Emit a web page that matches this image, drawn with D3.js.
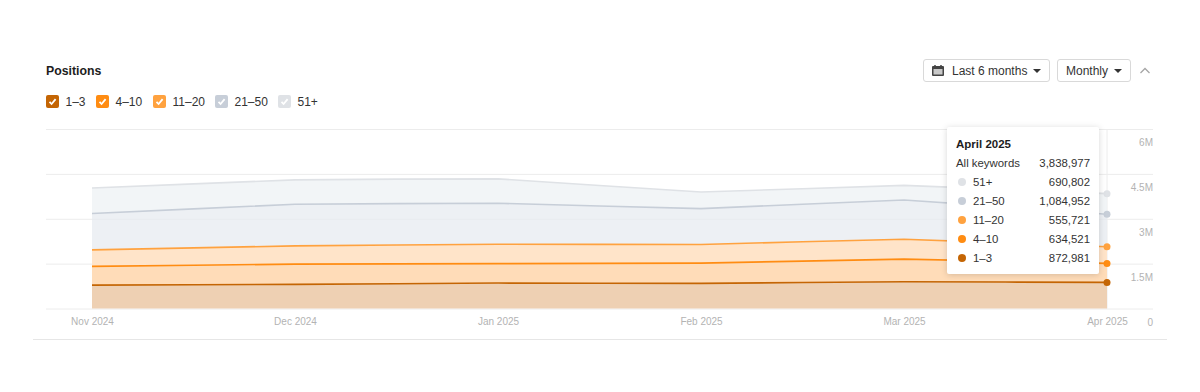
<!DOCTYPE html>
<html>
<head>
<meta charset="utf-8">
<script src="https://cdn.jsdelivr.net/npm/d3@7"></script>
<style>
    html, body { margin: 0; padding: 0; background: #fff; }
    svg { display: block; font-family: "Liberation Sans", Arial, sans-serif; }
    .y-axis .domain, .x-axis .domain, .x-axis .tick line { display: none; }
    .y-axis .tick line { stroke: #ececec; }
</style>
</head>
<body>
<svg id="chart" width="1200" height="392"></svg>
<script>
const months = ['Nov 2024', 'Dec 2024', 'Jan 2025', 'Feb 2025', 'Mar 2025', 'Apr 2025'];
const yTicks = [0, 1500000, 3000000, 4500000, 6000000];
const yTickLabels = ['0', '1.5M', '3M', '4.5M', '6M'];

const positions1to3 = [783000, 807000, 850000, 840000, 893000, 872981];
const positions4to10 = [624000, 676000, 650000, 677000, 757000, 634521];
const positions11to20 = [553000, 610000, 650000, 623000, 667000, 555721];
const positions21to50 = [1213000, 1390000, 1367000, 1200000, 1310000, 1084952];
const positions51plus = [853000, 817000, 816000, 553000, 490000, 690802];

const seriesNames = ['1–3', '4–10', '11–20', '21–50', '51+'];
const seriesValues = [positions1to3, positions4to10, positions11to20, positions21to50, positions51plus];
const lineColors = ['#c46504', '#ff8c12', '#ffa23f', '#c7ced8', '#dfe2e6'];
const fillColors = ['#eed0b3', '#ffdcb8', '#ffe4c9', '#e7ebf0', '#eef2f4'];
const fillOpacities = [1, 1, 1, 0.75, 0.75];

const tooltipTitle = 'April 2025';
const tooltipTotal = 3838977;

const svg = d3.select('#chart');

const x = d3.scalePoint().domain(months).range([92, 1107]);
const y = d3.scaleLinear().domain([0, 6000000]).range([308.5, 129]);

// y axis, labels sit under their gridline
const yAxis = svg.append('g')
    .attr('class', 'y-axis')
    .attr('transform', 'translate(1153,0)')
    .call(d3.axisLeft(y)
        .tickValues(yTicks)
        .tickSize(1107)
        .tickPadding(-1107)
        .tickFormat((d, i) => yTickLabels[i]));

yAxis.selectAll('text')
    .attr('x', 0)
    .attr('dy', 16.5)
    .attr('text-anchor', 'end')
    .attr('fill', '#b3b3b3')
    .attr('font-size', '10px');

// hover line
svg.append('line')
    .attr('x1', x('Apr 2025')).attr('x2', x('Apr 2025'))
    .attr('y1', y(6000000)).attr('y2', y(0))
    .attr('stroke', '#ececec');

const rows = months.map((m, i) => {
    const row = { month: m };
    seriesNames.forEach((s, j) => { row[s] = seriesValues[j][i]; });
    return row;
});
const stacked = d3.stack().keys(seriesNames)(rows);

// nearly straight segments with slightly rounded joints
const curve = d3.curveCardinal.tension(0.85);

const area = d3.area()
    .x(d => x(d.data.month))
    .y0(d => y(d[0]))
    .y1(d => y(d[1]))
    .curve(curve);

const line = d3.line()
    .x(d => x(d.data.month))
    .y(d => y(d[1]))
    .curve(curve);

svg.append('g').selectAll('path')
    .data(stacked)
    .join('path')
    .attr('d', area)
    .attr('fill', (d, i) => fillColors[i])
    .attr('fill-opacity', (d, i) => fillOpacities[i]);

svg.append('g').selectAll('path')
    .data(stacked)
    .join('path')
    .attr('d', line)
    .attr('fill', 'none')
    .attr('stroke-width', 1.6)
    .attr('stroke', (d, i) => lineColors[i]);

svg.append('g').selectAll('circle')
    .data(stacked)
    .join('circle')
    .attr('cx', x('Apr 2025'))
    .attr('cy', d => y(d[d.length - 1][1]))
    .attr('r', 3.5)
    .attr('fill', (d, i) => lineColors[i]);

// x axis
const xAxis = svg.append('g')
    .attr('class', 'x-axis')
    .attr('transform', 'translate(0,309)')
    .call(d3.axisBottom(x).tickSize(0).tickPadding(9));

xAxis.selectAll('text')
    .attr('fill', '#b3b3b3')
    .attr('font-size', '10px');

// bottom border of the card
svg.append('line')
    .attr('x1', 33).attr('x2', 1167)
    .attr('y1', 339.5).attr('y2', 339.5)
    .attr('stroke', '#e6e6e6');

// title
svg.append('text')
    .attr('x', 46).attr('y', 75)
    .attr('font-size', '12.3px')
    .attr('font-weight', 700)
    .attr('fill', '#1d1d1d')
    .text('Positions');

// legend
const legendX = d3.scaleOrdinal().domain(seriesNames).range([46, 96, 153, 215, 278]);
const legend = svg.append('g').selectAll('g')
    .data(seriesNames)
    .join('g')
    .attr('transform', d => `translate(${legendX(d)},95)`);

legend.append('rect')
    .attr('width', 13).attr('height', 13).attr('rx', 2)
    .attr('fill', (d, i) => lineColors[i]);

legend.append('path')
    .attr('d', 'M3.5 6.8L5.6 9L9.6 4.2')
    .attr('fill', 'none')
    .attr('stroke', '#fff')
    .attr('stroke-width', 1.8);

legend.append('text')
    .attr('x', 19.5).attr('y', 11)
    .attr('font-size', '12px')
    .attr('fill', '#333')
    .text(d => d);

// buttons
function button(left, right, label, textX) {
    svg.append('rect')
        .attr('x', left + 0.5).attr('y', 59.5)
        .attr('width', right - left - 1).attr('height', 22).attr('rx', 2.5)
        .attr('fill', '#fff')
        .attr('stroke', '#d9d9d9');
    svg.append('text')
        .attr('x', textX).attr('y', 75)
        .attr('font-size', '12px')
        .attr('fill', '#333')
        .text(label);
    const caretX = right - 13;
    svg.append('path')
        .attr('d', `M${caretX - 4} 69L${caretX + 4} 69L${caretX} 73Z`)
        .attr('fill', '#333');
}
button(923, 1050, 'Last 6 months', 952);
button(1057, 1131, 'Monthly', 1066);

// calendar icon
const cal = svg.append('g').attr('transform', 'translate(932,65)');
cal.append('rect')
    .attr('y', 1).attr('width', 12).attr('height', 10).attr('rx', 1)
    .attr('fill', '#444');
cal.append('rect')
    .attr('x', 1.5).attr('y', 4).attr('width', 9).attr('height', 5.5)
    .attr('fill', '#c9c9c9');
cal.append('path')
    .attr('d', 'M3 0V2M9 0V2')
    .attr('stroke', '#444')
    .attr('stroke-width', 1.5);

// collapse chevron
svg.append('path')
    .attr('d', 'M1140.5 73L1145 68.5L1149.5 73')
    .attr('fill', 'none')
    .attr('stroke', '#a6a6a6')
    .attr('stroke-width', 1.3);

// tooltip
const fmt = d3.format(',');
const tooltip = svg.append('g');

tooltip.append('rect')
    .attr('x', 947).attr('y', 127)
    .attr('width', 152).attr('height', 147).attr('rx', 2)
    .attr('fill', '#fff')
    .style('filter', 'drop-shadow(0 1px 3px rgba(0,0,0,0.16))');

tooltip.append('text')
    .attr('x', 956).attr('y', 148)
    .attr('font-size', '11.5px')
    .attr('font-weight', 700)
    .attr('fill', '#1d1d1d')
    .text(tooltipTitle);

const tipRows = [{ name: 'All keywords', value: tooltipTotal }].concat(
    seriesNames.map((s, i) => ({ name: s, value: seriesValues[i][5], color: lineColors[i] })).reverse()
);
const tipY = d3.scalePoint().domain(d3.range(tipRows.length)).range([163, 258]);

const tipRow = tooltip.append('g').selectAll('g')
    .data(tipRows)
    .join('g')
    .attr('transform', (d, i) => `translate(0,${tipY(i)})`);

tipRow.filter(d => d.color).append('circle')
    .attr('cx', 962).attr('r', 4)
    .attr('fill', d => d.color);

tipRow.append('text')
    .attr('x', d => d.color ? 973 : 956)
    .attr('dy', 4)
    .attr('font-size', '11.4px')
    .attr('fill', '#333')
    .text(d => d.name);

tipRow.append('text')
    .attr('x', 1090)
    .attr('dy', 4)
    .attr('text-anchor', 'end')
    .attr('font-size', '11.4px')
    .attr('fill', '#333')
    .text(d => fmt(d.value));
</script>
</body>
</html>
